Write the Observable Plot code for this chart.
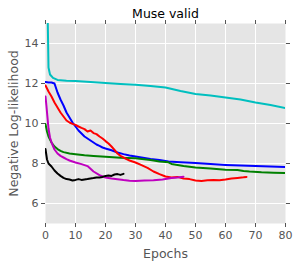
<!DOCTYPE html>
<html>
<head>
<meta charset="utf-8">
<script src="https://cdn.jsdelivr.net/npm/d3@7"></script>
<script src="https://cdn.jsdelivr.net/npm/@observablehq/plot@0.6"></script>
<style>
  html, body { margin: 0; padding: 0; background: #fff; }
  svg { display: block; }
</style>
</head>
<body>
<div id="chart"></div>
<script>
const title = "Muse valid";
const xLabel = "Epochs";
const yLabel = "Negative Log-likelihood";
const xTicks = [0, 10, 20, 30, 40, 50, 60, 70, 80];
const yTicks = [6, 8, 10, 12, 14];

const cyanEpochs = [0, 1, 1.5, 2.5, 4, 7, 10, 15, 20, 25, 30, 35, 40, 45, 50, 55, 60, 65, 70, 75, 80];
const cyanValues = [22, 12.8, 12.45, 12.28, 12.18, 12.14, 12.12, 12.07, 12.03, 11.98, 11.94, 11.88, 11.8, 11.63, 11.48, 11.4, 11.3, 11.2, 11.05, 10.92, 10.77];

const blueEpochs = [0, 1, 2, 3, 4, 5, 6, 7, 8, 9, 10, 11, 12, 13, 14, 15, 16, 17, 18, 19, 20, 22, 24, 26, 28, 30, 32, 35, 38, 41, 45, 50, 55, 60, 65, 70, 75, 80];
const blueValues = [12.08, 12.05, 12.05, 12.0, 11.55, 11.2, 10.9, 10.55, 10.3, 10.05, 9.85, 9.65, 9.5, 9.35, 9.25, 9.15, 9.05, 8.95, 8.88, 8.8, 8.75, 8.66, 8.55, 8.47, 8.4, 8.35, 8.3, 8.22, 8.17, 8.1, 8.06, 8.02, 7.97, 7.93, 7.9, 7.87, 7.85, 7.83];

const redEpochs = [0, 1, 2, 3, 4, 5, 6, 7, 8, 9, 10, 11, 12, 13, 14, 15, 16, 17, 18, 19, 20, 21, 22, 23, 24, 25, 26, 27, 28, 30, 32, 34, 36, 38, 40, 42, 44, 46, 48, 50, 52, 54, 56, 58, 60, 62, 64, 66, 67];
const redValues = [11.9, 11.6, 11.35, 11.05, 10.8, 10.55, 10.35, 10.15, 10.05, 9.98, 9.93, 9.85, 9.78, 9.72, 9.6, 9.65, 9.52, 9.47, 9.35, 9.25, 9.12, 9.0, 8.85, 8.68, 8.5, 8.38, 8.3, 8.22, 8.15, 8.05, 7.92, 7.78, 7.6, 7.47, 7.35, 7.3, 7.33, 7.25, 7.22, 7.15, 7.13, 7.16, 7.18, 7.16, 7.2, 7.25, 7.28, 7.31, 7.33];

const greenEpochs = [0, 0.5, 1, 2, 3, 4, 5, 6, 8, 10, 13, 16, 20, 25, 30, 35, 38, 41, 42, 44, 46, 50, 55, 60, 64, 66, 68, 72, 76, 80];
const greenValues = [9.97, 9.6, 9.35, 9.05, 8.85, 8.72, 8.63, 8.57, 8.5, 8.46, 8.41, 8.38, 8.34, 8.29, 8.26, 8.17, 8.1, 8.06, 7.98, 7.93, 7.88, 7.8, 7.75, 7.69, 7.68, 7.63, 7.6, 7.56, 7.54, 7.52];

const magentaEpochs = [0, 0.3, 0.6, 1, 1.5, 2, 3, 4, 5, 6, 7, 8, 10, 12, 14, 16, 18, 20, 22, 24, 26, 28, 30, 33, 36, 39, 42, 44, 46];
const magentaValues = [11.35, 10.9, 10.4, 9.75, 9.3, 9.05, 8.7, 8.5, 8.38, 8.3, 8.22, 8.15, 8.05, 7.97, 7.87, 7.6, 7.42, 7.3, 7.25, 7.21, 7.17, 7.14, 7.13, 7.15, 7.16, 7.2, 7.27, 7.3, 7.34];

const blackEpochs = [0, 0.5, 1, 2, 3, 4, 5, 6, 7, 8, 9, 10, 11, 12, 13, 14, 15, 16, 17, 18, 19, 20, 21, 22, 23, 24, 25, 26];
const blackValues = [8.72, 8.2, 8.0, 7.85, 7.65, 7.5, 7.38, 7.28, 7.22, 7.2, 7.15, 7.18, 7.22, 7.18, 7.2, 7.22, 7.25, 7.27, 7.3, 7.3, 7.33, 7.38, 7.4, 7.38, 7.45, 7.47, 7.43, 7.48];

const seriesList = [
  {epochs: cyanEpochs, values: cyanValues, color: "#00BFBF"},
  {epochs: blueEpochs, values: blueValues, color: "#0000FF"},
  {epochs: greenEpochs, values: greenValues, color: "#008000"},
  {epochs: redEpochs, values: redValues, color: "#FF0000"},
  {epochs: magentaEpochs, values: magentaValues, color: "#BF00BF"},
  {epochs: blackEpochs, values: blackValues, color: "#000000"}
];

const lineMarks = seriesList.map(s =>
  Plot.line(s.epochs.map((e, i) => ({epoch: e, value: s.values[i]})), {
    x: "epoch", y: "value", stroke: s.color, strokeWidth: 2, clip: true
  })
);

const tickColor = "#555555";

const chart = Plot.plot({
  width: 299,
  height: 267,
  marginLeft: 45,
  marginRight: 14,
  marginTop: 23,
  marginBottom: 44,
  style: {fontFamily: "DejaVu Sans", fontSize: "10.5px", background: "#fff"},
  x: {domain: [0, 80]},
  y: {domain: [5, 15]},
  marks: [
    Plot.frame({fill: "#E5E5E5", stroke: null}),
    Plot.gridX(xTicks.slice(1, -1), {stroke: "#fff", strokeOpacity: 1, strokeWidth: 1}),
    Plot.gridY(yTicks, {stroke: "#fff", strokeOpacity: 1, strokeWidth: 1}),
    ...lineMarks,
    Plot.axisX({ticks: xTicks, tickSize: 4, tickPadding: 4, color: tickColor, fontSize: 11,
      label: xLabel, labelAnchor: "center", labelArrow: "none", labelOffset: 34}),
    Plot.axisX({anchor: "top", ticks: xTicks, tickSize: 4, tickFormat: () => "", label: null, color: tickColor}),
    Plot.axisY({ticks: yTicks, tickSize: 4, tickPadding: 3, color: tickColor, fontSize: 11,
      label: yLabel, labelAnchor: "center", labelArrow: "none", labelOffset: 36}),
    Plot.axisY({anchor: "right", ticks: yTicks, tickSize: 4, tickFormat: () => "", label: null, color: tickColor}),
    Plot.text([title], {frameAnchor: "top", lineAnchor: "bottom", dy: -6, fontSize: 12.5, fill: "#000", text: d => d})
  ]
});

// axis label styling (colour/size)
chart.querySelectorAll("g[aria-label='x-axis label'] text, g[aria-label='y-axis label'] text").forEach(t => {
  t.setAttribute("font-size", "12.5");
  t.style.fontSize = "12.5px";
  t.setAttribute("fill", tickColor);
});

document.getElementById("chart").appendChild(chart);
</script>
</body>
</html>
